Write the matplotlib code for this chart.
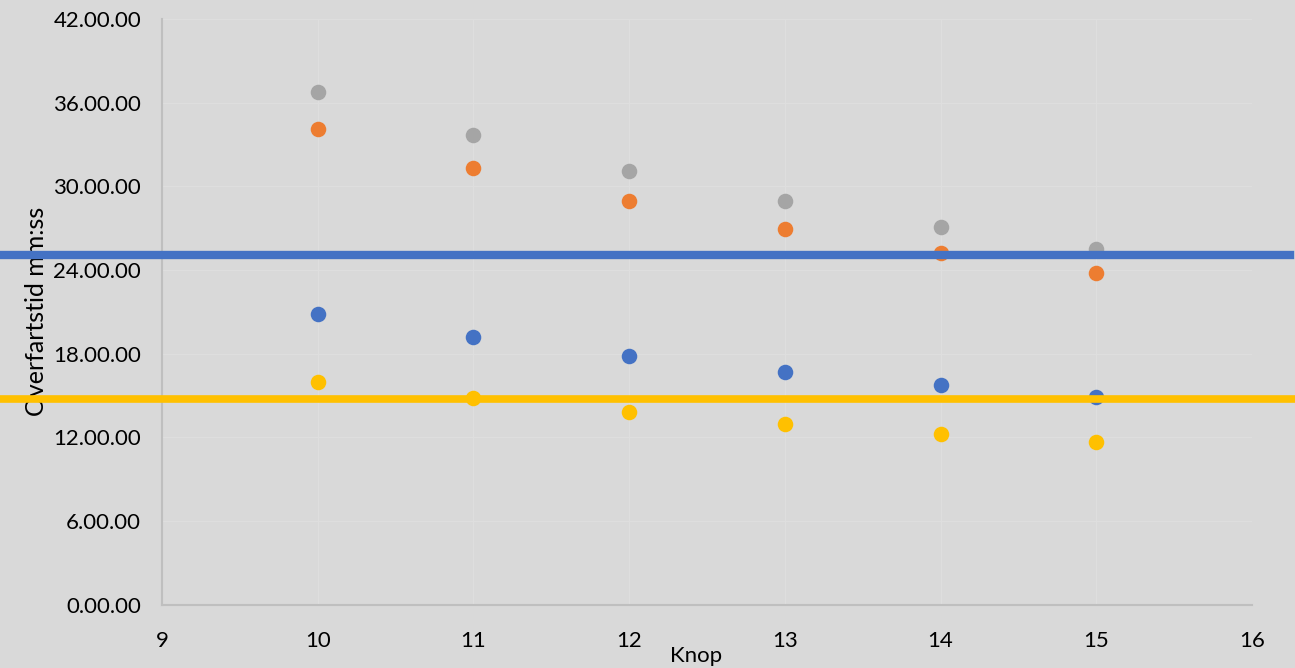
import numpy as np
import matplotlib
matplotlib.use('Agg')
import matplotlib.pyplot as plt
from matplotlib.lines import Line2D
from matplotlib.ticker import FuncFormatter, MultipleLocator
import matplotlib.transforms as mtransforms

# Crossing time (minutes) per speed in knots, four routes
knop = [10, 11, 12, 13, 14, 15]
gray_times = [36.74, 33.68, 31.12, 28.95, 27.10, 25.50]
orange_times = [34.11, 31.29, 28.95, 26.94, 25.24, 23.76]
blue_times = [20.85, 19.22, 17.86, 16.71, 15.75, 14.92]
yellow_times = [15.99, 14.80, 13.82, 12.98, 12.26, 11.65]

# Reference crossing times drawn as horizontal bands
blue_limit = 25.05
yellow_limit = 14.73

BG = '#D9D9D9'
plt.rcParams['font.family'] = ['Lato', 'DejaVu Sans']

fig = plt.figure(figsize=(12.95, 6.68), dpi=100, facecolor=BG)
ax = fig.add_axes([0.1251, 0.0948, 0.8417, 0.8768])
ax.set_facecolor(BG)

for times, col in [(gray_times, '#A5A5A5'), (orange_times, '#ED7D31'),
                   (blue_times, '#4472C4'), (yellow_times, '#FFC000')]:
    ax.scatter(knop, times, s=125, color=col, zorder=3, linewidths=0)

ax.set_xlim(9, 16)
ax.set_ylim(0, 42)
ax.xaxis.set_major_locator(MultipleLocator(1))
ax.yaxis.set_major_locator(MultipleLocator(6))
ax.yaxis.set_major_formatter(FuncFormatter(lambda v, p: f"{int(round(v))}.00.00"))

ax.grid(True, color='#DEDEDE', linewidth=0.9)
ax.set_axisbelow(True)
for side in ['top', 'right']:
    ax.spines[side].set_visible(False)
for side in ['left', 'bottom']:
    ax.spines[side].set_color('#BFBFBF')
    ax.spines[side].set_linewidth(1.5)

ax.tick_params(length=0, labelsize=16, colors='black')
ax.tick_params(axis='y', pad=15)
ax.tick_params(axis='x', pad=19)
ax.set_xlabel('Knop', fontsize=16, labelpad=-4)
ax.xaxis.label.set_x(0.49)
ax.set_ylabel('Overfartstid mm:ss', fontsize=18, labelpad=4)

# Horizontal bands span the whole figure width, over the axes
trans = mtransforms.blended_transform_factory(fig.transFigure, ax.transData)
fig.add_artist(Line2D([0, 0.996], [blue_limit, blue_limit], transform=trans,
                      color='#4472C4', linewidth=6, zorder=5))
fig.add_artist(Line2D([0, 0.998], [yellow_limit, yellow_limit], transform=trans,
                      color='#FFC000', linewidth=5.5, zorder=5))

fig.savefig('out.png', dpi=100, facecolor=BG)
